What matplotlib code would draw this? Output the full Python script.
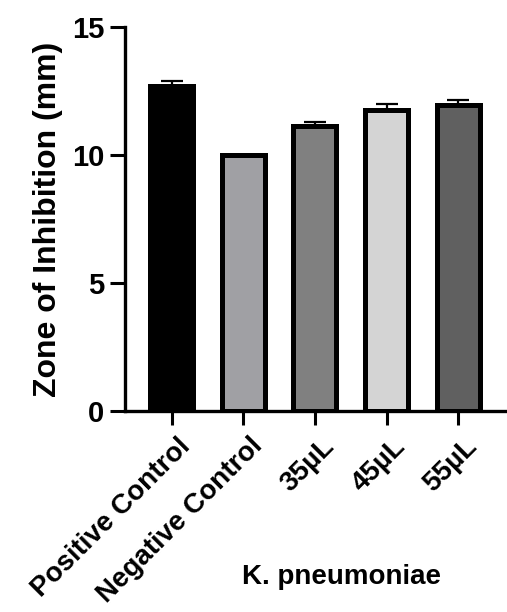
import matplotlib
matplotlib.use("Agg")
import matplotlib.pyplot as plt
import matplotlib.transforms as mtransforms

categories = ["Positive Control", "Negative Control", "35µL", "45µL", "55µL"]
means = [12.7, 10.0, 11.15, 11.75, 11.95]
errors = [0.2, 0.0, 0.15, 0.23, 0.2]
colors = ["#000000", "#a0a0a4", "#808080", "#d4d4d4", "#606060"]
yticks = [0, 5, 10, 15]

plt.rcParams['font.family'] = ['Liberation Sans', 'DejaVu Sans']
plt.rcParams['font.weight'] = 'bold'

W, H = 507, 612
fig = plt.figure(figsize=(W/100, H/100), dpi=100)
ax = fig.add_axes([125/W, (H-411)/H, 1 - 125/W + 0.01, (411-27)/H])

x = list(range(len(categories)))
ax.bar(x, means, width=0.6, color=colors, edgecolor="black", linewidth=3.6, zorder=2)
ax.errorbar(x, means, yerr=[[0]*len(errors), errors], fmt="none", ecolor="black",
            elinewidth=1.6, capsize=8, capthick=1.6, zorder=1)

ax.set_xlim(-0.65, 4.75)
ax.set_ylim(0, 15)
ax.set_yticks(yticks)
ax.set_xticks(x)
ax.set_xticklabels(categories, rotation=45, ha="right", rotation_mode="anchor", fontsize=20, fontweight="bold")
ax.tick_params(axis="y", labelsize=21, length=11, width=2.2, pad=4)
ax.tick_params(axis="x", length=10, width=2.2, pad=6)
offset = mtransforms.ScaledTranslation(6/100, 0, fig.dpi_scale_trans)
for lab in ax.get_xticklabels():
    lab.set_transform(lab.get_transform() + offset)
for lab in ax.get_yticklabels():
    lab.set_fontweight("bold")
for s in ["top", "right"]:
    ax.spines[s].set_visible(False)
for s in ["left", "bottom"]:
    ax.spines[s].set_linewidth(2.4)

ax.set_ylabel("Zone of Inhibition (mm)", fontsize=23, fontweight="bold", labelpad=6)
fig.text(342/W, 1 - 577/H, "K. pneumoniae", fontsize=20, fontweight="bold", ha="center", va="center")

fig.savefig("out.png", dpi=100)
